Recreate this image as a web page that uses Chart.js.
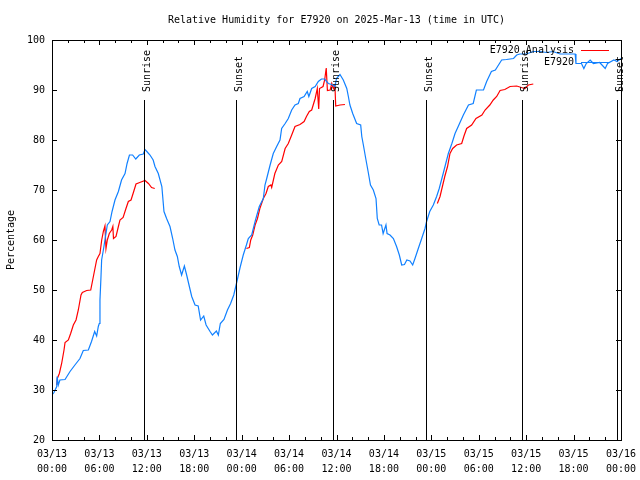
<!DOCTYPE html>
<html>
<head>
<meta charset="utf-8">
<title>Relative Humidity E7920</title>
<script src="https://cdn.jsdelivr.net/npm/chart.js@4.4.0/dist/chart.umd.min.js"></script>
<style>
  html, body { margin: 0; padding: 0; background: #ffffff; }
  canvas { display: block; }
</style>
</head>
<body>
<canvas id="rhChart" width="640" height="480"></canvas>
<script>
// hours since 03/13 00:00 UTC
const obsHours = [
  0.0, 0.25, 0.6, 0.65, 0.8, 1.0, 1.65, 2.28, 2.9, 3.54, 3.96, 4.6, 5.0, 5.2, 5.4, 5.65, 5.86, 5.98,
  6.07, 6.2, 6.28, 6.5, 6.7, 7.0, 7.34, 7.6, 7.97, 8.4, 8.8, 9.24, 9.5, 9.8, 10.2, 10.6, 11.05, 11.55,
  11.77, 12.0, 12.4, 12.8, 13.03, 13.45, 13.9, 14.17, 14.5, 14.93, 15.27, 15.56, 15.86, 16.1, 16.4,
  16.75, 17.04, 17.38, 17.68, 18.1, 18.5, 18.8, 19.2, 19.5, 20.0, 20.3, 20.8, 21.05, 21.3, 21.76,
  22.2, 22.6, 23.0, 23.37, 23.8, 24.2, 24.6, 24.84, 25.27, 25.7, 26.23, 26.74, 26.95, 27.17, 27.6,
  28.0, 28.43, 28.85, 29.06, 29.5, 29.9, 30.33, 30.75, 31.17, 31.38, 31.9, 32.3, 32.5, 32.86, 33.3,
  33.7, 34.1, 34.5, 34.96, 35.4, 35.8, 36.0, 36.44, 36.86, 37.3, 37.5, 37.7, 38.05, 38.55, 39.06,
  39.2, 39.4, 39.7, 40.0, 40.3, 40.66, 41.0, 41.16, 41.4, 41.7, 41.9, 42.26, 42.4, 42.77, 43.2,
  43.6, 43.95, 44.25, 44.6, 44.9, 45.3, 45.64, 45.93, 46.35, 46.78, 47.2, 47.4, 47.8, 48.25, 48.67,
  49.0, 49.5, 50.15, 50.6, 51.0, 51.4, 52.05, 52.7, 53.3, 53.7, 54.6, 55.0, 55.6, 56.1, 56.9, 57.5,
  58.4, 58.8, 59.2, 60.0, 60.9, 61.7, 62.6, 63.4, 64.3, 65.1, 66.2, 66.3, 67.0, 67.3, 67.6, 68.1,
  68.5, 69.3, 70.0, 70.3, 71.1, 71.5, 72.0
];
const obsValues = [
  29, 29.5, 30.7, 32.7, 31, 32, 32.1, 33.7, 35, 36.3, 37.9, 38, 39.7, 40.7, 41.7, 40.8, 42.7, 43.3,
  48, 52.7, 56, 58, 60, 63, 63.7, 65.7, 68, 69.7, 72, 73.3, 75.3, 77, 77, 76.2, 77, 77.2,
  78.1, 77.7, 77, 76, 74.7, 73.3, 70.7, 65.7, 64.3, 62.7, 60.3, 58, 56.7, 54.7, 53,
  54.8, 53, 50.7, 48.7, 47, 46.8, 44, 44.8, 43, 41.7, 41, 41.8, 41, 43.3, 44.1,
  46, 47.3, 49, 51.5, 54.5, 57, 59, 60.3, 61, 63.7, 66.7, 68.3, 71, 72.3, 75,
  77.3, 78.7, 80, 82.3, 83.3, 84.3, 86, 87, 87.3, 88.3, 88.7, 89.7, 88.7, 90.3, 90.7,
  91.7, 92.2, 92.2, 91.3, 91.1, 90.7, 92.3, 93.1, 92, 90.3, 88.7, 87, 85.3, 83.3, 83,
  80.7, 79, 76.3, 73.7, 71, 70, 68.3, 64.3, 63, 63, 61.3, 63, 61.3, 61, 60.3,
  58.7, 57, 55, 55.1, 56, 55.8, 55, 56.3, 58.3, 60.3, 62.3, 63.7, 65.7, 67, 68.7,
  70.3, 73.3, 77.3, 79.3, 81.3, 82.7, 85, 87, 87.3, 90, 90, 91.7, 93.7, 94, 96, 96.1,
  96.3, 97, 97.2, 97.2, 97.7, 97.7, 97.5, 97.7, 97.2, 97.2, 97.2, 95.3, 95.3, 94.3, 95.3, 96,
  95.3, 95.5, 94.3, 95.3, 96, 95.7, 96.3
];
// analysis runs, null marks a break between runs
const anaHours = [
  0.6, 0.67, 0.93, 1.22, 1.52, 1.65, 2.07, 2.36, 2.7, 3.04, 3.33, 3.67, 3.84, 4.39, 4.9, 5.15, 5.36,
  5.65, 5.86, 6.07, 6.29, 6.5, 6.7, 6.83, 7.0, 7.25, 7.55, 7.7, 7.78, 8.1, 8.4, 8.6, 9.0, 9.36,
  9.66, 10.0, 10.3, 10.63, 11.1, 11.77, 12.2, 12.6, 13.0,
  18.0,
  24.6, 24.97, 25.15, 25.4, 25.7, 26.0, 26.3, 26.74, 27.08, 27.37, 27.7, 27.8, 28.2, 28.64, 29.07,
  29.5, 29.9, 30.33, 30.75, 31.38, 31.9, 32.2, 32.56, 32.86, 33.3, 33.57, 33.75, 33.85, 34.3, 34.5,
  34.7, 34.85, 35.2, 35.4, 35.6, 35.8, 35.9, 36.44, 37.07,
  42.0,
  48.76, 49.1, 49.4, 49.7, 50.05, 50.36, 50.7, 51.2, 51.84, 52.13, 52.47, 53.1, 53.65, 54.4, 54.8,
  55.4, 55.84, 56.27, 56.7, 57.3, 57.96, 58.8, 59.4, 59.85, 60.27, 60.9
];
const anaValues = [
  31, 32.3, 33.3, 35.3, 38, 39.5, 40, 41.3, 43, 44, 46, 49, 49.5, 49.9, 50, 52, 53.7,
  56, 56.7, 57.3, 60, 61.7, 62.8, 58.3, 60, 61.3, 62, 62.7, 60.3, 60.7, 62.7, 64, 64.5, 66.3,
  67.7, 68, 69.5, 71.2, 71.5, 71.9, 71.3, 70.5, 70.3,
  null,
  58.3, 58.5, 60, 61, 63, 64.3, 66.3, 68.3, 69.3, 70.7, 71, 70.5, 73.3, 75, 75.7,
  78.3, 79.3, 81, 82.7, 83.1, 83.7, 84.7, 85.7, 86, 88.3, 90.3, 86.2, 90.3, 90.7, 92,
  94.4, 89.9, 90, 91.3, 90.3, 91, 86.8, 87, 87.1,
  null,
  67.3, 68.7, 70.7, 72.7, 74.7, 77.3, 78.3, 79, 79.3, 80.8, 82.3, 83, 84.3, 85, 86,
  87, 88, 88.7, 89.9, 90.1, 90.7, 90.8, 90.5, 90.3, 91, 91.2
];
const tickDates = ['03/13', '03/13', '03/13', '03/13', '03/14', '03/14', '03/14', '03/14',
  '03/15', '03/15', '03/15', '03/15', '03/16'];
const tickTimes = ['00:00', '06:00', '12:00', '18:00', '00:00', '06:00', '12:00', '18:00',
  '00:00', '06:00', '12:00', '18:00', '00:00'];
const eventHours = [11.68, 23.32, 35.59, 47.36, 59.51, 71.45];
const eventLabels = ['Sunrise', 'Sunset', 'Sunrise', 'Sunset', 'Sunrise', 'Sunset'];
const eventTop = 88;

const monoFont = { family: '"DejaVu Sans Mono", "Liberation Mono", monospace', size: 10 };

const toPoints = (xs, ys) => xs.map((h, i) => ({ x: h, y: ys[i] }));

// gnuplot-ish border, inward ticks, sun markers and key
const gnuplotDecor = {
  id: 'gnuplotDecor',
  afterDatasetsDraw(chart) {
    const { ctx, chartArea: a, scales: { x, y } } = chart;
    ctx.save();
    ctx.strokeStyle = '#000000';
    ctx.lineWidth = 1;
    ctx.strokeRect(a.left + 0.5, a.top + 0.5, a.right - a.left, a.bottom - a.top);

    ctx.beginPath();
    for (let h = x.min; h <= x.max; h += 2) {
      const px = Math.round(x.getPixelForValue(h)) + 0.5;
      const len = h % 6 === 0 ? 5 : 3;
      ctx.moveTo(px, a.bottom); ctx.lineTo(px, a.bottom - len);
      ctx.moveTo(px, a.top); ctx.lineTo(px, a.top + len);
    }
    y.ticks.forEach(t => {
      const py = Math.round(y.getPixelForValue(t.value)) + 0.5;
      ctx.moveTo(a.left, py); ctx.lineTo(a.left + 5, py);
      ctx.moveTo(a.right, py); ctx.lineTo(a.right - 5, py);
    });
    ctx.stroke();

    // sunrise / sunset
    ctx.font = `${monoFont.size}px ${monoFont.family}`;
    ctx.fillStyle = '#000000';
    const yTop = y.getPixelForValue(eventTop);
    eventHours.forEach((h, i) => {
      const px = Math.round(x.getPixelForValue(h)) + 0.5;
      ctx.beginPath();
      ctx.moveTo(px, yTop);
      ctx.lineTo(px, a.bottom);
      ctx.stroke();
      ctx.save();
      ctx.translate(px + 5.5, yTop - 8);
      ctx.rotate(-Math.PI / 2);
      ctx.textAlign = 'left';
      ctx.textBaseline = 'alphabetic';
      ctx.fillText(eventLabels[i], 0, 0);
      ctx.restore();
    });

    // key
    ctx.textAlign = 'right';
    ctx.textBaseline = 'middle';
    chart.data.datasets.forEach((ds, i) => {
      const ky = a.top + 10 + i * 12;
      ctx.fillStyle = '#000000';
      ctx.fillText(ds.label, a.right - 47, ky);
      ctx.strokeStyle = ds.borderColor;
      ctx.beginPath();
      ctx.moveTo(a.right - 40, Math.round(ky) + 0.5);
      ctx.lineTo(a.right - 12, Math.round(ky) + 0.5);
      ctx.stroke();
    });
    ctx.restore();
  }
};

new Chart(document.getElementById('rhChart'), {
  type: 'line',
  data: {
    datasets: [{
      label: 'E7920 Analysis',
      data: toPoints(anaHours, anaValues),
      borderColor: '#ff0000',
      borderWidth: 1.2,
      pointRadius: 0,
      spanGaps: false,
      order: 1
    }, {
      label: 'E7920',
      data: toPoints(obsHours, obsValues),
      borderColor: '#1080ff',
      borderWidth: 1.2,
      pointRadius: 0,
      order: 0
    }]
  },
  options: {
    responsive: false,
    animation: false,
    layout: { padding: { left: 0, right: 19, top: 0, bottom: 0 } },
    scales: {
      x: {
        type: 'linear',
        min: 0,
        max: 72,
        grid: { display: false, drawTicks: false },
        border: { display: false },
        ticks: {
          stepSize: 6,
          padding: 7,
          color: '#000000',
          font: { ...monoFont, lineHeight: 1.5 },
          maxRotation: 0,
          autoSkip: false,
          callback: (value, index) => [tickDates[index], tickTimes[index]]
        },
        afterFit: scale => {
          scale.height = 40;
          scale.paddingLeft = 0;
          scale.paddingRight = 0;
        }
      },
      y: {
        min: 20,
        max: 100,
        grid: { display: false, drawTicks: false },
        border: { display: false },
        ticks: { stepSize: 10, padding: 7, color: '#000000', font: monoFont },
        title: {
          display: true,
          text: 'Percentage',
          color: '#000000',
          font: monoFont,
          padding: { top: 5, bottom: 0 }
        },
        afterFit: scale => { scale.width = 52; }
      }
    },
    plugins: {
      legend: { display: false },
      tooltip: { enabled: false },
      title: {
        display: true,
        fullSize: false,
        text: 'Relative Humidity for E7920 on 2025-Mar-13 (time in UTC)',
        color: '#000000',
        font: { ...monoFont, weight: 'normal' },
        padding: { top: 14, bottom: 14 }
      }
    }
  },
  plugins: [gnuplotDecor]
});
</script>
</body>
</html>
